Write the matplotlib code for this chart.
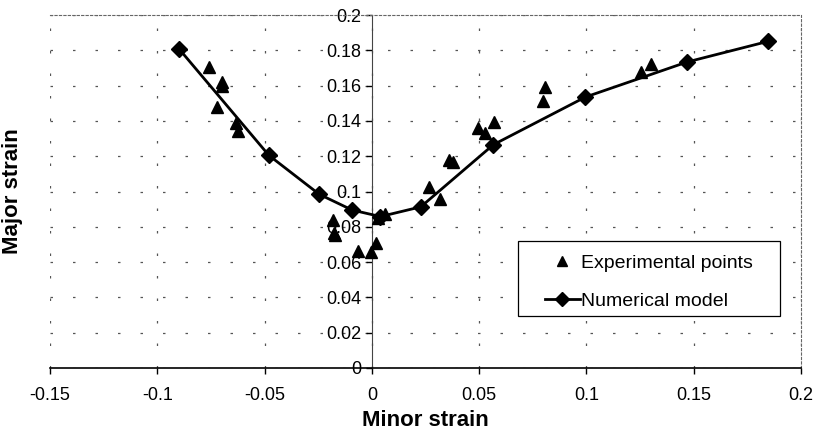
import matplotlib.pyplot as plt
from matplotlib.patches import Rectangle

plt.rcParams['font.family'] = ['Liberation Sans', 'DejaVu Sans']

# modelo numerico (diamantes)
num_x = [-0.090, -0.048, -0.0245, -0.0092, 0.0040, 0.0228, 0.0566, 0.0995, 0.147, 0.1848]
num_y = [0.181, 0.1205, 0.0984, 0.0895, 0.0858, 0.0913, 0.1265, 0.1535, 0.1734, 0.1851]

# puntos experimentales (triangulos)
exp_x = [-0.076, -0.070, -0.070, -0.072, -0.0634, -0.0624,
         -0.018, -0.0177, -0.0172, -0.0065, -0.0005, 0.0019,
         0.003, 0.006,
         0.0266, 0.0317, 0.036, 0.0377, 0.0494, 0.0527, 0.0569,
         0.0797, 0.0806, 0.1253, 0.130]
exp_y = [0.1705, 0.162, 0.160, 0.148, 0.139, 0.134,
         0.0838, 0.0765, 0.0755, 0.0665, 0.066, 0.071,
         0.085, 0.087,
         0.1026, 0.096, 0.118, 0.1167, 0.136, 0.133, 0.1394,
         0.151, 0.159, 0.1677, 0.172]

x_ticks = [-0.15, -0.1, -0.05, 0, 0.05, 0.1, 0.15, 0.2]
y_ticks = [0, 0.02, 0.04, 0.06, 0.08, 0.1, 0.12, 0.14, 0.16, 0.18, 0.2]

fig = plt.figure(figsize=(8.18, 4.33), dpi=100)
ax = fig.add_axes([50 / 818, 1 - 368 / 433, 751 / 818, 353 / 433])

ax.plot(exp_x, exp_y, linestyle='none', marker='^', color='black',
        markersize=8.5, label='Experimental points', zorder=3)
ax.plot(num_x, num_y, color='black', linewidth=2, marker='D',
        markersize=8, label='Numerical model', zorder=4)

ax.set_xlim(-0.15, 0.2)
ax.set_ylim(0, 0.2)
ax.set_xticks(x_ticks)
ax.set_yticks(y_ticks)
ax.set_xticklabels(['-0.15', '-0.1', '-0.05', '0', '0.05', '0.1', '0.15', '0.2'])
ax.set_yticklabels(['0', '0.02', '0.04', '0.06', '0.08', '0.1', '0.12', '0.14',
                    '0.16', '0.18', '0.2'])
ax.tick_params(labelsize=13, length=4, color='black', width=1)
ax.tick_params(axis='x', pad=10)

ax.grid(True, color='#555555', linestyle=(0, (2, 16)), linewidth=0.9)

# eje y centrado en x=0
ax.spines['left'].set_position(('data', 0))
ax.spines['left'].set_color('#444444')
ax.spines['bottom'].set_linewidth(1.2)
for s in ['top', 'right']:
    ax.spines[s].set_color('#666666')
    ax.spines[s].set_linestyle((0, (2, 2)))
    ax.spines[s].set_linewidth(0.8)

ax.set_xlabel('Minor strain', fontsize=16, fontweight='bold', labelpad=4)
ax.set_ylabel('Major strain', fontsize=16, fontweight='bold')
ax.yaxis.set_label_coords(-0.036, 0.5)

# caja de la leyenda
caja = Rectangle((0.623, 0.147), 0.349, 0.213, transform=ax.transAxes,
                 facecolor='white', edgecolor='black', linewidth=0.9, zorder=5)
ax.add_patch(caja)
leg = ax.legend(loc='center', bbox_to_anchor=(0.7975, 0.2425), fontsize=14,
                frameon=False, handlelength=1.8, handletextpad=0.1,
                borderaxespad=0, borderpad=0, labelspacing=1.05, markerscale=0.85)
leg.set_zorder(6)

fig.savefig('out.png', dpi=100)
